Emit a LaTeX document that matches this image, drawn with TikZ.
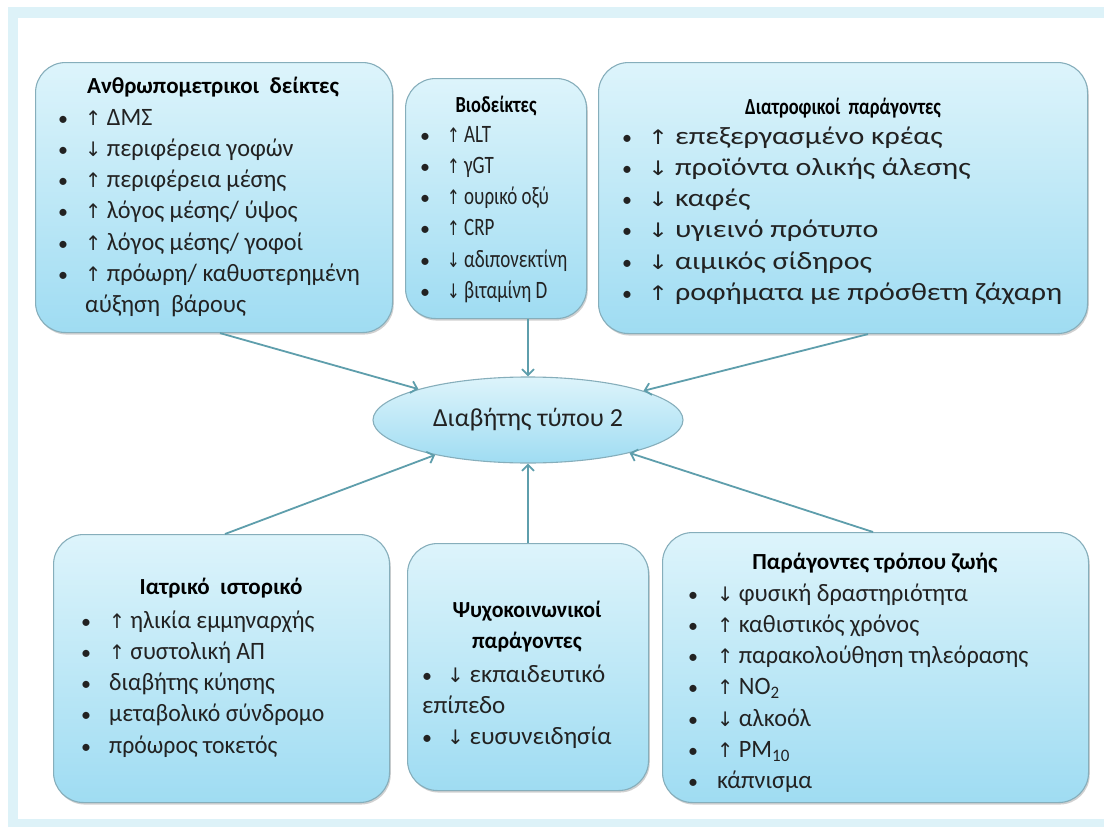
\documentclass[tikz,border=0pt]{standalone}
\usepackage{graphicx}
\usepackage{fontspec}
\setmainfont{Carlito}
\newfontfamily\symf{DejaVu Sans}
\usetikzlibrary{shapes.geometric,arrows.meta,shadows,calc}
\definecolor{boxtop}{HTML}{DDF4FB}
\definecolor{boxbot}{HTML}{9FDCF2}
\definecolor{boxline}{HTML}{86AEBB}
\definecolor{conncol}{HTML}{5E9EAC}
\definecolor{framecol}{HTML}{DDF2F8}
\definecolor{txtcol}{HTML}{222222}
\newcommand\uarr{{\symf\fontsize{20}{20}\selectfont ↑}}
\newcommand\darr{{\symf\fontsize{20}{20}\selectfont ↓}}
\newcommand\bul{{\fontsize{20}{20}\selectfont •}}
\def\boxsx{1}
\newcommand\sx[1]{\scalebox{\boxsx}[1]{#1}}
\tikzset{
  box/.style={rectangle, rounded corners=30pt, draw=boxline, line width=1.1pt,
    top color=boxtop, bottom color=boxbot, anchor=north west, inner sep=0pt,
    drop shadow={shadow xshift=1.2pt, shadow yshift=-2pt, opacity=.3, fill=black!60}},
  ell/.style={ellipse, draw=boxline, line width=1.1pt, top color=boxtop, bottom color=boxbot,
    inner sep=0pt, font=\fontsize{26}{30}\selectfont, text=txtcol},
  titletxt/.style={inner sep=0pt, font=\bfseries\fontsize{23}{31}\selectfont, text=black, align=center},
  listtxt/.style={inner sep=0pt, anchor=base west, font=\fontsize{25}{31.3}\selectfont, text=txtcol},
  conn/.style={draw=conncol, line width=1.8pt, -{Straight Barb[length=6pt,width=12pt]}}
}
\begin{document}
\begin{tikzpicture}[x=1pt,y=-1pt]
\useasboundingbox (0,0) rectangle (1104,827);
\fill[framecol] (8,7) rectangle (1104,827);
\fill[white] (18,18) rectangle (1104,819);

% boxes
\node[box, minimum width=357pt, minimum height=270pt] (A) at (35,62) {};
\node[box, minimum width=181pt, minimum height=240pt] (B) at (405,78) {};
\node[box, minimum width=489pt, minimum height=271pt] (C) at (598,62) {};
\node[box, minimum width=336pt, minimum height=268pt] (D) at (53,534) {};
\node[box, minimum width=241pt, minimum height=247pt] (E) at (407,543) {};
\node[box, minimum width=426pt, minimum height=270pt] (F) at (662,532) {};

\node[ell, minimum width=310pt, minimum height=86pt] (Ell) at (528,420) {Διαβήτης τύπου 2};

% titles
\node[titletxt] (At) at (213,87) {Ανθρωπομετρικοι\ \ δείκτες};
\node[titletxt] (Bt) at (496,106) {\scalebox{0.8}[1]{Βιοδείκτες}};
\node[titletxt] (Ct) at (843,108) {\scalebox{0.8}[1]{Διατροφικοί\ \ παράγοντες}};
\node[titletxt] (Dt) at (221,588) {Ιατρικό\ \ ιστορικό};
\node[titletxt] (Et) at (527,627) {\scalebox{0.95}[1]{Ψυχοκοινωνικοί}\\\scalebox{0.95}[1]{παράγοντες}};
\node[titletxt] (Ft) at (875,563) {Παράγοντες τρόπου ζωής};

% lists
\node[listtxt] (Al) at (58,125) {\def\boxsx{0.97}\begin{tabular}[t]{@{}p{27pt}@{}l@{}}
\bul&\sx{\uarr\ ΔΜΣ}\\
\bul&\sx{\darr\ περιφέρεια γοφών}\\
\bul&\sx{\uarr\ περιφέρεια μέσης}\\
\bul&\sx{\uarr\ λόγος μέσης/ ύψος}\\
\bul&\sx{\uarr\ λόγος μέσης/ γοφοί}\\
\bul&\sx{\uarr\ πρόωρη/ καθυστερημένη}\\
&\sx{αύξηση\ \ βάρους}
\end{tabular}};
\node[listtxt] (Bl) at (420,142) {\def\boxsx{0.76}\begin{tabular}[t]{@{}p{27pt}@{}l@{}}
\bul&\sx{\uarr\ ALT}\\
\bul&\sx{\uarr\ γGT}\\
\bul&\sx{\uarr\ ουρικό οξύ}\\
\bul&\sx{\uarr\ CRP}\\
\bul&\sx{\darr\ αδιπονεκτίνη}\\
\bul&\sx{\darr\ βιταμίνη D}
\end{tabular}};
\node[listtxt] (Cl) at (622,144) {\def\boxsx{1.2}\begin{tabular}[t]{@{}p{26pt}@{}l@{}}
\bul&\sx{\uarr\ επεξεργασμένο κρέας}\\
\bul&\sx{\darr\ προϊόντα ολικής άλεσης}\\
\bul&\sx{\darr\ καφές}\\
\bul&\sx{\darr\ υγιεινό πρότυπο}\\
\bul&\sx{\darr\ αιμικός σίδηρος}\\
\bul&\sx{\uarr\ ροφήματα με πρόσθετη ζάχαρη}
\end{tabular}};
\node[listtxt] (Dl) at (81,628) {\def\boxsx{0.95}\begin{tabular}[t]{@{}p{28pt}@{}l@{}}
\bul&\sx{\uarr\ ηλικία εμμηναρχής}\\
\bul&\sx{\uarr\ συστολική ΑΠ}\\
\bul&\sx{διαβήτης κύησης}\\
\bul&\sx{μεταβολικό σύνδρομο}\\
\bul&\sx{πρόωρος τοκετός}
\end{tabular}};
\node[listtxt] (El) at (422,682) {\def\boxsx{1}\begin{tabular}[t]{@{}p{25pt}@{}l@{}}
\bul&\sx{\darr\ εκπαιδευτικό}\\
\multicolumn{2}{@{}l@{}}{\sx{επίπεδο}}\\
\bul&\sx{\darr\ ευσυνειδησία}
\end{tabular}};
\node[listtxt] (Fl) at (688,601) {\def\boxsx{0.97}\begin{tabular}[t]{@{}p{29pt}@{}l@{}}
\bul&\sx{\darr\ φυσική δραστηριότητα}\\
\bul&\sx{\uarr\ καθιστικός χρόνος}\\
\bul&\sx{\uarr\ παρακολούθηση τηλεόρασης}\\
\bul&\sx{\uarr\ NO\textsubscript{2}}\\
\bul&\sx{\darr\ αλκοόλ}\\
\bul&\sx{\uarr\ PM\textsubscript{10}}\\
\bul&\sx{κάπνισμα}
\end{tabular}};

% connectors
\coordinate (a1) at ($(A.south west)+(185,0)$);
\coordinate (b1) at ($(B.south west)+(123,0)$);
\coordinate (c1) at ($(C.south west)+(270,0)$);
\coordinate (d1) at ($(D.north west)+(172,0)$);
\coordinate (e1) at ($(E.north west)+(121,0)$);
\coordinate (f1) at ($(F.north west)+(211,0)$);
\draw[conn] (a1) -- (Ell);
\draw[conn] (b1) -- (Ell);
\draw[conn] (c1) -- (Ell);
\draw[conn] (d1) -- (Ell);
\draw[conn] (e1) -- (Ell);
\draw[conn] (f1) -- (Ell);
\end{tikzpicture}
\end{document}
